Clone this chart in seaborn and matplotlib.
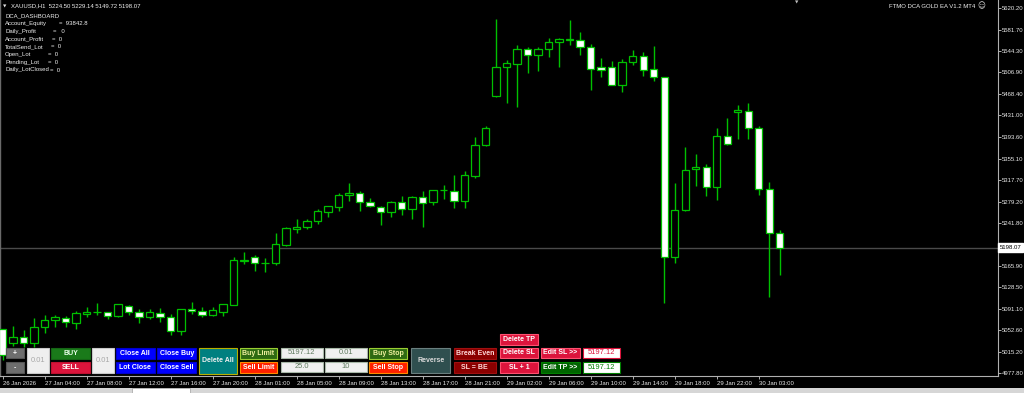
import numpy as np
import pandas as pd
import matplotlib
matplotlib.use("Agg")
import matplotlib.pyplot as plt
import seaborn as sns
from matplotlib.patches import Rectangle

# ---------------- data ----------------
symbol = "XAUUSD,H1"
opens = [5054.5, 5029.8, 5041.4, 5030.9, 5058.0, 5070.8, 5074.4, 5065.0, 5080.9, 5084.4,
         5084.9, 5077.3, 5096.0, 5084.9, 5075.6, 5083.7, 5075.6, 5052.0, 5089.7, 5086.1,
         5080.2, 5084.9, 5097.2, 5175.5, 5182.2, 5171.2, 5170.6, 5202.8, 5231.5, 5234.5,
         5244.6, 5261.5, 5269.2, 5290.3, 5293.8, 5278.5, 5270.3, 5261.5, 5278.5, 5266.7,
         5286.8, 5278.5, 5299.1, 5297.9, 5280.8, 5324.3, 5378.3, 5465.6, 5515.6, 5522.0,
         5547.3, 5536.8, 5547.3, 5559.6, 5564.2, 5563.2, 5550.8, 5516.2, 5516.2, 5485.0,
         5524.4, 5536.1, 5512.6, 5498.0, 5181.7, 5263.9, 5336.1, 5339.6, 5304.9, 5395.2,
         5436.4, 5438.7, 5408.8, 5300.9, 5224.50]
highs = [5055.0, 5060.3, 5053.2, 5074.4, 5079.1, 5079.1, 5077.9, 5086.1, 5093.2, 5100.2,
         5085.5, 5099.5, 5096.5, 5089.7, 5089.7, 5092.0, 5081.4, 5090.2, 5102.5, 5093.2,
         5093.2, 5099.5, 5182.2, 5190.0, 5184.7, 5180.0, 5224.5, 5234.0, 5248.6, 5249.1,
         5265.7, 5271.5, 5293.8, 5312.5, 5297.4, 5285.6, 5270.8, 5279.8, 5289.1, 5289.1,
         5298.4, 5300.2, 5308.5, 5326.1, 5332.6, 5392.4, 5412.8, 5600.1, 5528.5, 5554.9,
         5551.9, 5550.8, 5567.2, 5567.2, 5598.9, 5577.8, 5557.2, 5531.5, 5526.7, 5530.2,
         5545.6, 5543.1, 5553.1, 5498.5, 5312.0, 5375.9, 5363.0, 5345.4, 5408.8, 5426.9,
         5449.3, 5452.3, 5411.8, 5313.7, 5229.14]
lows = [5000.4, 5025.1, 5023.8, 5023.8, 5048.5, 5058.0, 5059.0, 5055.5, 5075.6, 5080.2,
        5072.1, 5076.1, 5080.2, 5065.0, 5072.1, 5067.3, 5044.4, 5044.4, 5081.4, 5075.6,
        5077.9, 5077.9, 5096.7, 5168.9, 5157.6, 5155.3, 5167.1, 5201.1, 5224.5, 5231.5,
        5239.8, 5252.7, 5262.2, 5280.8, 5262.2, 5270.3, 5238.0, 5251.6, 5256.2, 5248.1,
        5234.0, 5273.8, 5283.3, 5267.4, 5268.5, 5321.3, 5377.8, 5462.8, 5453.3, 5445.8,
        5505.1, 5509.1, 5534.3, 5516.7, 5555.4, 5537.8, 5475.7, 5499.1, 5484.5, 5472.2,
        5519.2, 5500.8, 5491.5, 5101.3, 5170.6, 5263.4, 5307.2, 5289.6, 5282.1, 5379.6,
        5388.9, 5388.9, 5290.3, 5110.8, 5149.72]
closes = [5009.2, 5041.4, 5030.9, 5058.0, 5070.8, 5075.6, 5066.8, 5082.6, 5084.4, 5085.2,
          5077.9, 5098.5, 5084.9, 5075.6, 5084.4, 5075.6, 5052.0, 5089.7, 5086.1, 5079.1,
          5088.4, 5099.0, 5175.9, 5176.3, 5171.7, 5172.0, 5204.1, 5232.2, 5235.1, 5245.6,
          5262.2, 5271.0, 5290.3, 5293.8, 5278.0, 5271.0, 5261.5, 5278.5, 5265.7, 5286.8,
          5277.3, 5299.7, 5299.4, 5280.8, 5326.1, 5378.3, 5409.3, 5515.6, 5522.7, 5547.3,
          5536.8, 5547.3, 5559.6, 5564.9, 5564.6, 5550.8, 5512.1, 5511.4, 5485.0, 5524.4,
          5536.1, 5511.4, 5498.0, 5181.7, 5263.9, 5335.4, 5339.6, 5304.9, 5395.2, 5380.1,
          5439.9, 5408.3, 5300.9, 5224.5, 5198.07]

xtick_bars = [0, 4, 8, 12, 16, 20, 24, 28, 32, 36, 40, 44, 48, 52, 56, 60, 64, 68, 72]
xtick_labels = ["26 Jan 2026", "27 Jan 04:00", "27 Jan 08:00", "27 Jan 12:00", "27 Jan 16:00",
                "27 Jan 20:00", "28 Jan 01:00", "28 Jan 05:00", "28 Jan 09:00", "28 Jan 13:00",
                "28 Jan 17:00", "28 Jan 21:00", "29 Jan 02:00", "29 Jan 06:00", "29 Jan 10:00",
                "29 Jan 14:00", "29 Jan 18:00", "29 Jan 22:00", "30 Jan 03:00"]
ytick_values = [5620.20, 5581.70, 5544.30, 5506.90, 5468.40, 5431.00, 5393.60, 5355.10,
                5317.70, 5279.20, 5241.80, 5165.90, 5128.50, 5091.10, 5052.60,
                5015.20, 4977.80]
last_price = 5198.07

dash_title = "DCA_DASHBOARD"
dash_labels = ["Account_Equity", "Daily_Profit", "Account_Profit", "TotalSend_Lot",
               "Open_Lot", "Pending_Lot", "Daily_LotClosed"]
dash_values = ["93842.8", "0", "0", "0", "0", "0", "0"]
ea_title = "FTMO DCA GOLD EA V1.2 MT4"

# ---------------- style ----------------
sns.set_theme(style="dark", rc={"axes.facecolor": "black", "figure.facecolor": "black"})
plt.rcParams["font.family"] = ["Liberation Sans", "DejaVu Sans"]

W, H = 1024, 393
GREEN = "#00c000"
FS = 4.3

fig = plt.figure(figsize=(W / 100, H / 100), dpi=100, facecolor="black")
ax = fig.add_axes([0, 1 - 376 / H, 998 / W, 376 / H])
ax.set_facecolor("black")

df = pd.DataFrame({"o": opens, "h": highs, "l": lows, "c": closes})
df["i"] = np.arange(len(df))
bull = df["c"] >= df["o"]
body_bottom = np.minimum(df["o"], df["c"])
body_h = np.maximum(np.abs(df["c"] - df["o"]), 0.6)

ax.axhline(last_price, color="#4a4a4a", lw=1.0, zorder=1)
ax.vlines(df["i"], df["l"], df["h"], color=GREEN, lw=1.0, zorder=2)
ax.bar(df["i"], body_h, bottom=body_bottom, width=0.68,
       color=np.where(bull, "black", "white"), edgecolor=GREEN, linewidth=0.9, zorder=3)

ax.set_xlim(-0.24, 94.8)
ax.set_ylim(4972.3, 5634.1)

ax.spines["top"].set_visible(False)
ax.spines["left"].set_color("#6a6a6a")
ax.spines["left"].set_linewidth(1.0)
for s in ["right", "bottom"]:
    ax.spines[s].set_color("#b0b0b0")
    ax.spines[s].set_linewidth(0.8)

ax.yaxis.tick_right()
ax.set_yticks(ytick_values)
ax.set_yticklabels([f"{v:.2f}" for v in ytick_values])
ax.tick_params(axis="y", which="both", right=True, left=False, length=2.0, width=0.7,
               color="#b0b0b0", labelcolor="#e8e8e8", labelsize=FS, pad=0.6)
ax.set_xticks(xtick_bars)
ax.set_xticklabels(xtick_labels)
for t in ax.get_xticklabels():
    t.set_ha("left")
ax.tick_params(axis="x", which="both", bottom=True, length=2.2, width=0.7,
               color="#b0b0b0", labelcolor="#e8e8e8", labelsize=FS, pad=1.2)
ax.grid(False)

# current price label
ax.text(1.0015, last_price, f"{last_price:.2f}", transform=ax.get_yaxis_transform(),
        ha="left", va="center", fontsize=FS, color="black", zorder=10, clip_on=False,
        bbox=dict(boxstyle="square,pad=0.3", facecolor="white", edgecolor="white"))


def px(x, y):
    return x / W, 1 - y / H


# header / dashboard text
fig.text(*px(3, 6), "▼", fontsize=3.2, color="#e0e0e0", ha="left", va="center",
         family="DejaVu Sans")
fig.text(*px(11, 6),
         f"{symbol}  {opens[-1]:.2f} {highs[-1]:.2f} {lows[-1]:.2f} {closes[-1]:.2f}",
         fontsize=FS, color="#f0f0f0", ha="left", va="center")
fig.text(*px(5, 15.7), dash_title, fontsize=FS, color="#f0f0f0", ha="left", va="center")
eq_x = [59, 53, 52, 51, 48, 48, 50]
line_y = [23.5, 31.5, 39.2, 46.8, 54.4, 62.2, 70.0]
for lab, val, ex, ly in zip(dash_labels, dash_values, eq_x, line_y):
    fig.text(*px(5, ly), lab, fontsize=FS, color="#f0f0f0", ha="left", va="center")
    fig.text(*px(ex, ly), ("=   " if lab == "Daily_Profit" else "=  ") + val,
             fontsize=FS, color="#f0f0f0", ha="left", va="center")

fig.text(*px(975, 6), ea_title, fontsize=FS, color="#f0f0f0", ha="right", va="center")
fig.text(*px(981, 6), "☺", fontsize=5.5, color="#f0f0f0", ha="center", va="center",
         family="DejaVu Sans")
fig.text(*px(797, 3), "▼", fontsize=3.2, color="#c0c0c0", ha="center", va="center",
         family="DejaVu Sans")

# ---------------- panel buttons (layout) ----------------
buttons = [
    # x0, y0, x1, y1, text, face, edge, textcolor, bold
    (5.7, 347.7, 24, 358.3, "+", "#6e6e6e", "#555555", "white", True),
    (5.7, 361.7, 24, 373.3, "-", "#6e6e6e", "#555555", "white", True),
    (26.7, 347.7, 49.3, 373.3, "0.01", "#efefef", "#c8c8c8", "#a8a8a8", False),
    (51, 347.7, 90, 358.7, "BUY", "#1a7a1a", "#156515", "#e8ffe8", True),
    (51, 361.7, 90, 373.3, "SELL", "#dc143c", "#c01030", "white", True),
    (92, 347.7, 114.3, 373.3, "0.01", "#efefef", "#c8c8c8", "#a8a8a8", False),
    (115.7, 347.7, 155, 358.7, "Close All", "#0000ff", "#0000cc", "white", True),
    (115.7, 361.7, 155, 373.3, "Lot Close", "#0000ff", "#0000cc", "white", True),
    (157, 347.7, 196.3, 358.7, "Close Buy", "#0000ff", "#0000cc", "white", True),
    (157, 361.7, 196.3, 373.3, "Close Sell", "#0000ff", "#0000cc", "white", True),
    (198.7, 347.7, 237, 374, "Delete All", "#008080", "#b8b000", "#f0f0f0", True),
    (239.7, 347.7, 277, 358.7, "Buy Limit", "#2e6a12", "#9acd32", "#f0f0a0", True),
    (239.7, 361.7, 277, 373.3, "Sell Limit", "#ff2000", "#ff8c00", "white", True),
    (280.7, 347.7, 322.7, 358.3, "5197.12", "#f0f0f0", "#a8b8a8", "#5f7a5f", False),
    (280.7, 361.7, 322.7, 372.3, "25.0", "#f0f0f0", "#a8b8a8", "#5f7a5f", False),
    (325.3, 347.7, 366.7, 358.3, "0.01", "#f0f0f0", "#a8b8a8", "#5f7a5f", False),
    (325.3, 361.7, 366.7, 372.3, "10", "#f0f0f0", "#a8b8a8", "#5f7a5f", False),
    (369, 347.7, 407.3, 358.7, "Buy Stop", "#2e6a12", "#9acd32", "#f0f0a0", True),
    (369, 361.7, 407.3, 373.3, "Sell Stop", "#ff2000", "#ff8c00", "white", True),
    (411.3, 347.7, 450, 373.3, "Reverse", "#2f4f4f", "#6a7f7f", "#d8d8d8", True),
    (453.7, 347.7, 496, 358.7, "Break Even", "#8b0000", "#a01010", "#ffd8d8", True),
    (453.7, 361.7, 496, 373.3, "SL = BE", "#8b0000", "#a01010", "#ffd8d8", True),
    (500, 334.3, 538.3, 345, "Delete TP", "#dc143c", "#ff5070", "white", True),
    (500, 347.7, 538.3, 358.3, "Delete SL", "#dc143c", "#ff5070", "white", True),
    (500, 361.7, 538.3, 373.3, "SL + 1", "#dc143c", "#ff5070", "white", True),
    (540.7, 347.7, 580, 358.3, "Edit SL >>", "#dc143c", "#ff5070", "white", True),
    (540.7, 361.7, 580, 373.3, "Edit TP >>", "#006400", "#008000", "white", True),
    (583.3, 347.7, 620, 358.3, "5197.12", "white", "#dc143c", "#dc143c", False),
    (583.3, 361.7, 620, 373.3, "5197.12", "white", "#008000", "#008000", False),
]
for x0, y0, x1, y1, txt, fc, ec, tc, bold in buttons:
    fig.add_artist(Rectangle((x0 / W, 1 - y1 / H), (x1 - x0) / W, (y1 - y0) / H,
                             transform=fig.transFigure, facecolor=fc, edgecolor=ec,
                             linewidth=0.8, zorder=5))
    fig.text((x0 + x1) / 2 / W, 1 - (y0 + y1) / 2 / H, txt, ha="center", va="center",
             fontsize=5.4 if not bold else 5.0, fontweight="bold" if bold else "normal",
             color=tc, zorder=6)

# bottom tab strip
fig.add_artist(Rectangle((0, 0), 1, 5.5 / H, transform=fig.transFigure,
                         facecolor="#d6d6d6", edgecolor="none", zorder=5))
fig.add_artist(Rectangle((132 / W, 0), 58 / W, 5.5 / H, transform=fig.transFigure,
                         facecolor="#ffffff", edgecolor="#a0a0a0", linewidth=0.5, zorder=6))

fig.savefig("out.png", dpi=100, facecolor="black")
